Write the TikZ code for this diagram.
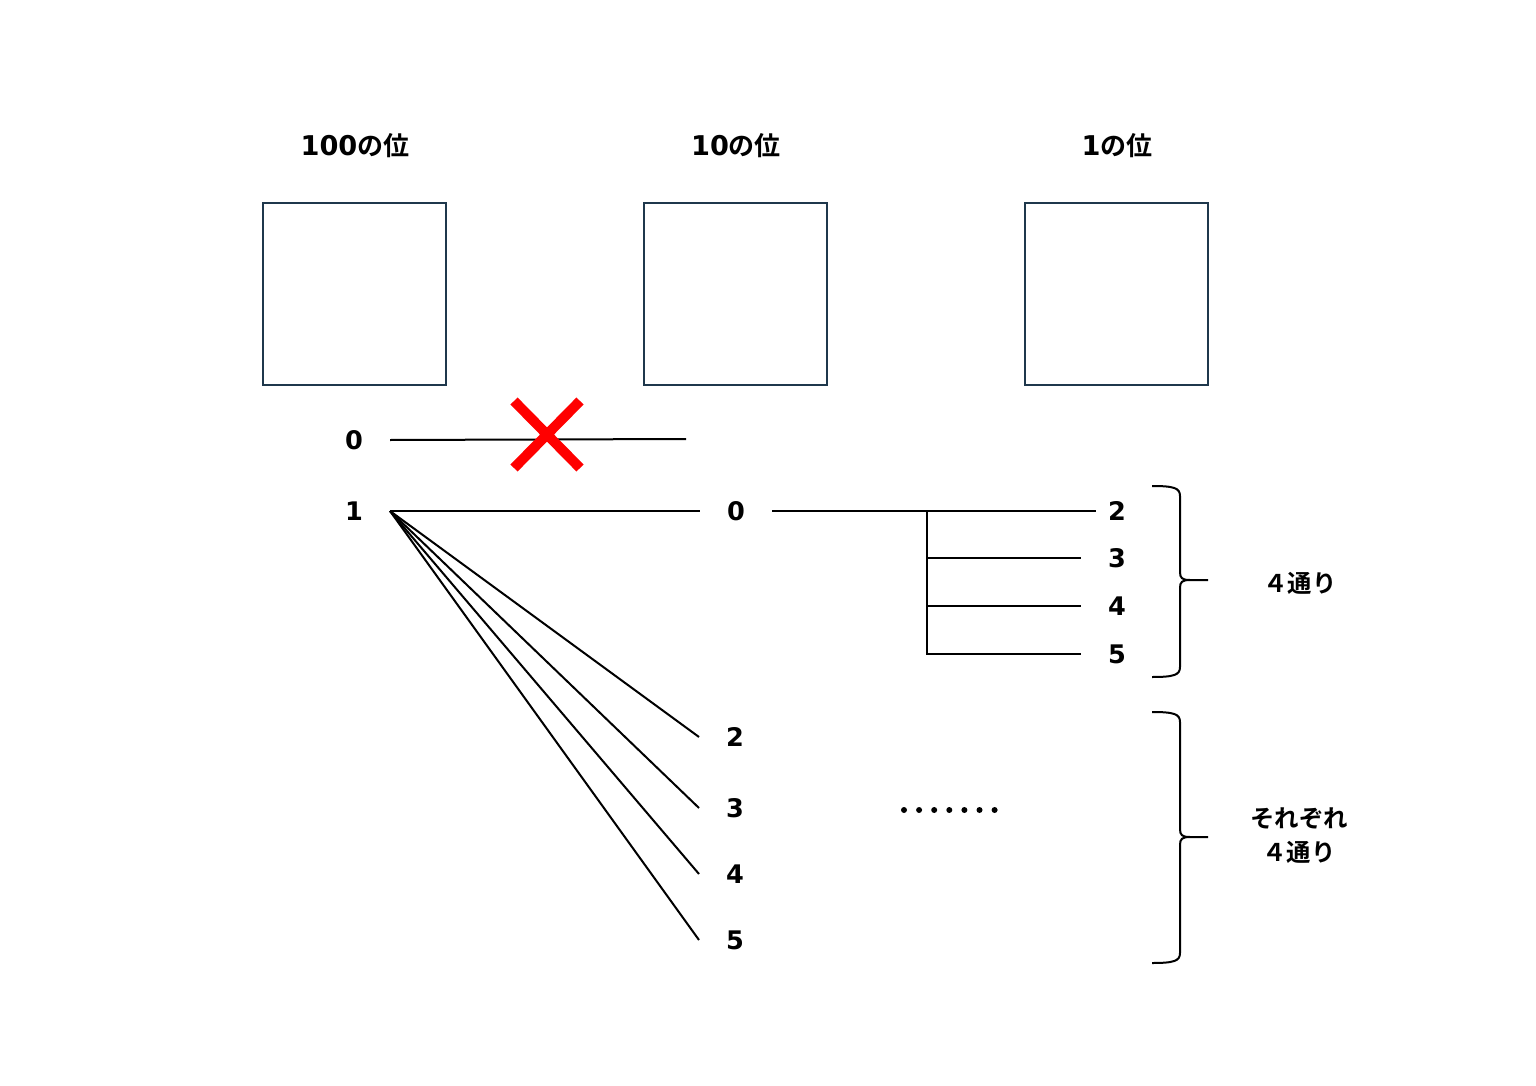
\documentclass[tikz,border=0pt]{standalone}
\usepackage{fontspec}
\setmainfont{Noto Sans CJK JP}[BoldFont={Noto Sans CJK JP Bold}]
\newfontfamily\numfont{DejaVu Sans}[BoldFont={DejaVu Sans Bold}]
\usepackage{tikz}
\definecolor{boxline}{RGB}{31,56,76}
\newcommand\digs[1]{{\numfont\fontsize{13.6}{17}\selectfont #1}}

\begin{document}
\begin{tikzpicture}[x=0.5pt,y=-0.5pt,line width=1pt,
  digit/.style={font=\numfont\bfseries\fontsize{12.8}{17}\selectfont,minimum width=35pt,inner sep=0pt},
  head/.style={font=\bfseries\fontsize{12.2}{17}\selectfont,align=center,inner sep=0pt},
  place/.style={draw=boxline,minimum width=91.5pt,minimum height=91pt,inner sep=0pt}]
  \useasboundingbox (0,0) rectangle (1536,1086);
  % the three places
  \node[place] (b100) at (354.5,294) {};
  \node[place] (b10) at (735.5,294) {};
  \node[place] (b1) at (1116.5,294) {};
  \node[head,font=\bfseries\fontsize{13}{17}\selectfont] (h100) at (355,146) {\digs{100}の位};
  \node[head,font=\bfseries\fontsize{13}{17}\selectfont] (h10) at (736,146) {\digs{10}の位};
  \node[head,font=\bfseries\fontsize{13}{17}\selectfont] (h1) at (1117,146) {\digs{1}の位};
  % hundreds
  \node[digit] (z) at (354,440) {0};
  \node[digit] (one) at (354,511) {1};
  \coordinate (zend) at (686,439);
  \draw (z.east) -- (zend);
  \draw[red,line width=5pt] (514,401) -- (580,468) (580,401) -- (514,468);
  % tens
  \node[digit] (m0) at (736,511) {0};
  \draw (one.east) -- (m0.west);
  \foreach \d/\y in {2/737,3/808,4/874,5/940} {
    \node[digit] (m\d) at (735,\y) {\d};
    \draw (one.east) -- (m\d.west);
  }
  % ones
  \foreach \d/\y in {2/511,3/558,4/606,5/654}
    \node[digit] (r\d) at (1117,\y) {\d};
  \coordinate (fork) at (927,511);
  \draw[shorten >=-7.5pt] (m0.east) -- (r2.west);
  \foreach \d in {3,4,5}
    \draw (fork) |- (r\d.west);
  \foreach \i in {0,...,6}
    \fill (904+15.1*\i,810) circle [radius=1.5pt];
  % braces
  \foreach \t/\m/\b in {486/580/677,712/837/963}
    \draw (1152,\t) .. controls (1174,\t) and (1180,\t+2) .. (1180,\t+10)
      -- (1180,\m-8) .. controls (1180,\m-2) and (1182,\m) .. (1190,\m) -- (1208,\m)
      (1190,\m) .. controls (1182,\m) and (1180,\m+2) .. (1180,\m+8)
      -- (1180,\b-10) .. controls (1180,\b-2) and (1174,\b) .. (1152,\b);
  \node[head] (four) at (1300,583) {４通り};
  \node[head] (each) at (1299,836) {それぞれ\\４通り};
\end{tikzpicture}
\end{document}
